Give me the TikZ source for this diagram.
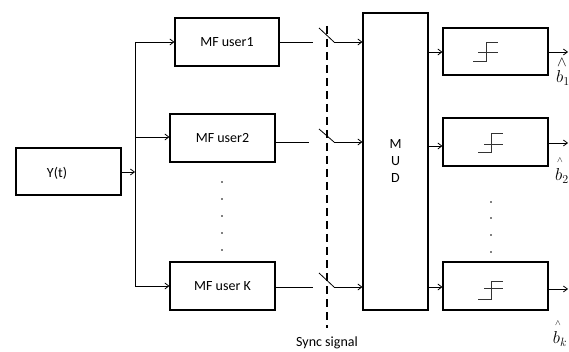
\documentclass[tikz,border=0pt]{standalone}
\usepackage{fontspec}
\setmainfont{Carlito}
\usetikzlibrary{arrows.meta,calc}
\tikzset{
  blk/.style={draw, line width=1.1pt, inner sep=0pt, font=\fontsize{14}{16}\selectfont},
  conn/.style={line width=0.8pt},
  arr/.style={conn, -{Straight Barb[length=4pt,width=6pt]}},
  stepsym/.style={line width=0.9pt, black!80},
  dotmark/.style={fill=black, draw=none, circle, inner sep=0pt, minimum size=1.6pt},
  lbl/.style={font=\fontsize{14}{16}\selectfont, inner sep=0pt},
  blbl/.style={font=\fontsize{17}{18}\selectfont, inner sep=0pt},
  hatbig/.style={font=\fontsize{14}{14}\selectfont, inner sep=0pt},
  hatsmall/.style={font=\fontsize{8}{8}\selectfont, inner sep=0pt}
}
\begin{document}
\begin{tikzpicture}[x=1pt,y=-1pt]
\useasboundingbox (0,0) rectangle (569,352);
% input block
\node[blk, minimum width=105pt, minimum height=47pt] (yt) at (68.5,171.5) {};
\node[lbl] (ytt) at (57,173) {Y(t)};
% matched filters
\node[blk, minimum width=104pt, minimum height=48pt] (mf1) at (227,42) {MF user1};
\node[blk, minimum width=105pt, minimum height=48pt] (mf2) at (222.5,138) {MF user2};
\node[blk, minimum width=105pt, minimum height=48pt] (mfk) at (222.5,286) {MF user K};
% MUD
\node[blk, minimum width=65pt, minimum height=297pt, align=center] (mud) at (395.5,161.5) {M\\[1pt]U\\[1pt]D};
% decision blocks
\node[blk, minimum width=105pt, minimum height=47pt] (d1) at (495.5,51.5) {};
\node[blk, minimum width=105pt, minimum height=48pt] (d2) at (495.5,142) {};
\node[blk, minimum width=105pt, minimum height=48pt] (dk) at (495.5,286) {};
% bus
\coordinate (bus) at (135,172);
\coordinate (j1) at (135,42);
\coordinate (j2) at (135,137);
\coordinate (jk) at (135,286);
\draw[arr] (yt.east |- bus) -- (bus);
\draw[line width=0.9pt] (j1) -- (jk);
\draw[arr] (j1) -- (mf1.west |- j1);
\draw[arr] (j2) -- (mf2.west |- j2);
\draw[arr] (jk) -- (mfk.west |- jk);
% dots left
\foreach \yy [count=\i] in {182,199,216,233,250} \node[dotmark] (ld\i) at (222,\yy) {};
% switches
\coordinate (s1a) at (313,42); \coordinate (s1b) at (319,28); \coordinate (s1c) at (334,42);
\coordinate (s2a) at (309,142); \coordinate (s2b) at (319,129); \coordinate (s2c) at (334,142);
\coordinate (ska) at (313,287); \coordinate (skb) at (319,273); \coordinate (skc) at (334,287);
\draw[conn] (mf1.east |- s1a) -- (s1a);
\draw[conn] (mf2.east |- s2a) -- (s2a);
\draw[conn] (mfk.east |- ska) -- (ska);
\draw[conn] (s1b) -- (s1c);
\draw[conn] (s2b) -- (s2c);
\draw[conn] (skb) -- (skc);
\draw[arr] (s1c) -- (mud.west |- s1c);
\draw[arr] (s2c) -- (mud.west |- s2c);
\draw[arr] (skc) -- (mud.west |- skc);
% sync line
\coordinate (syt) at (327,26);
\coordinate (syb) at (327,328);
\draw[line width=1.2pt, dash pattern=on 8pt off 5pt] (syt) -- (syb);
\node[lbl] (sync) at (327,343) {Sync signal};
% MUD to decisions
\coordinate (m1) at (428,52); \coordinate (m2) at (428,146); \coordinate (mk) at (428,287);
\draw[arr] (m1) -- (d1.west |- m1);
\draw[arr] (m2) -- (d2.west |- m2);
\draw[arr] (mk) -- (dk.west |- mk);
% outputs
\coordinate (o1) at (568,52); \coordinate (o2) at (568,143); \coordinate (ok) at (568,289);
\draw[arr] (d1.east |- o1) -- (o1);
\draw[arr] (d2.east |- o2) -- (o2);
\draw[arr] (dk.east |- ok) -- (ok);
% step symbols
\draw[stepsym] (473,61) -- (486,61) -- (486,42) -- (498,42);
\draw[stepsym] (478,52) -- (498,52);
\draw[stepsym] (478,152) -- (491,152) -- (491,133) -- (503,133);
\draw[stepsym] (484,144) -- (503,144);
\draw[stepsym] (478,299) -- (491,299) -- (491,281) -- (503,281);
\draw[stepsym] (484,288) -- (503,288);
% dots right
\foreach \yy [count=\i] in {202,218,235,252} \node[dotmark] (rd\i) at (491,\yy) {};
% output labels
\node[hatbig] (h1) at (562,63) {$\wedge$};
\node[blbl] (b1) at (563,78) {$b_{1}$};
\node[hatsmall] (h2) at (560,160) {$\wedge$};
\node[blbl] (b2) at (562,176) {$b_{2}$};
\node[hatsmall] (hk) at (558,323) {$\wedge$};
\node[blbl] (bk) at (560,339) {$b_{k}$};
\end{tikzpicture}
\end{document}
